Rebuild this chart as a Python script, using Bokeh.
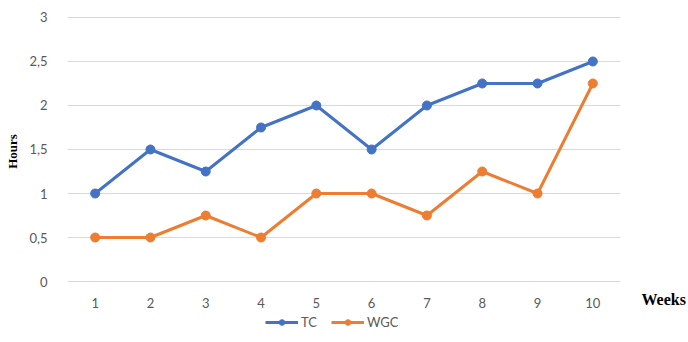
import math
from bokeh.plotting import figure
from bokeh.models import Label, Legend, LegendItem, Range1d, FixedTicker, CustomJSTickFormatter
from bokeh.embed import file_html
from bokeh.resources import INLINE

weeks = [1, 2, 3, 4, 5, 6, 7, 8, 9, 10]
tc_hours = [1.0, 1.5, 1.25, 1.75, 2.0, 1.5, 2.0, 2.25, 2.25, 2.5]
wgc_hours = [0.5, 0.5, 0.75, 0.5, 1.0, 1.0, 0.75, 1.25, 1.0, 2.25]
y_ticks = [0, 0.5, 1, 1.5, 2, 2.5, 3]

TC_COLOR = "#4472c4"
WGC_COLOR = "#ed7d31"
TICK_COLOR = "#595959"
TICK_FONT = "Lato"

# the frame covers the whole canvas; axes are pinned inside it
p = figure(width=688, height=342, output_backend="svg", toolbar_location=None,
           x_range=Range1d(-0.7116, 11.73), y_range=Range1d(-0.693, 3.193),
           min_border=0)
p.outline_line_color = None
p.background_fill_color = "white"

for ax in (p.xaxis[0], p.yaxis[0]):
    ax.axis_line_color = None
    ax.major_tick_line_color = None
    ax.minor_tick_line_color = None
    ax.major_label_text_color = TICK_COLOR
    ax.major_label_text_font = TICK_FONT
    ax.major_label_text_font_size = "13px"

p.xaxis.ticker = FixedTicker(ticks=weeks)
p.xaxis.major_label_standoff = 10
p.xaxis.fixed_location = 0
p.yaxis.ticker = FixedTicker(ticks=y_ticks)
p.yaxis.major_label_standoff = 14
p.yaxis.fixed_location = 0.5
p.yaxis.formatter = CustomJSTickFormatter(code="return String(tick).replace('.', ',');")

p.xgrid.grid_line_color = None
p.ygrid.grid_line_color = None

# horizontal gridlines spanning the category area
p.segment(x0=0.5, x1=10.5, y0=y_ticks, y1=y_ticks, line_color="#d9d9d9", line_width=1, level="underlay")

tc_line = p.line(weeks, tc_hours, line_color=TC_COLOR, line_width=3)
tc_pts = p.scatter(weeks, tc_hours, size=9, fill_color=TC_COLOR, line_color=TC_COLOR)
wgc_line = p.line(weeks, wgc_hours, line_color=WGC_COLOR, line_width=3)
wgc_pts = p.scatter(weeks, wgc_hours, size=9, fill_color=WGC_COLOR, line_color=WGC_COLOR)

legend = Legend(items=[LegendItem(label="TC", renderers=[tc_line, tc_pts]),
                       LegendItem(label="WGC", renderers=[wgc_line, wgc_pts])],
                orientation="horizontal", location=(265, 12),
                glyph_width=33, glyph_height=14, padding=0, spacing=10,
                label_standoff=3, label_text_font=TICK_FONT,
                label_text_font_size="13px", label_text_color=TICK_COLOR,
                background_fill_alpha=0, border_line_color=None)
p.add_layout(legend, "center")

p.add_layout(Label(x=-0.495, y=1.477, text="Hours", angle=math.pi / 2,
                   text_align="center", text_baseline="middle",
                   text_font="Liberation Serif", text_font_style="bold",
                   text_font_size="13px", text_color="black"))
p.add_layout(Label(x=10.88, y=-0.205, text="Weeks",
                   text_align="left", text_baseline="middle",
                   text_font="Liberation Serif", text_font_style="bold",
                   text_font_size="16px", text_color="black"))

open("out.html", "w").write(file_html(p, INLINE))
